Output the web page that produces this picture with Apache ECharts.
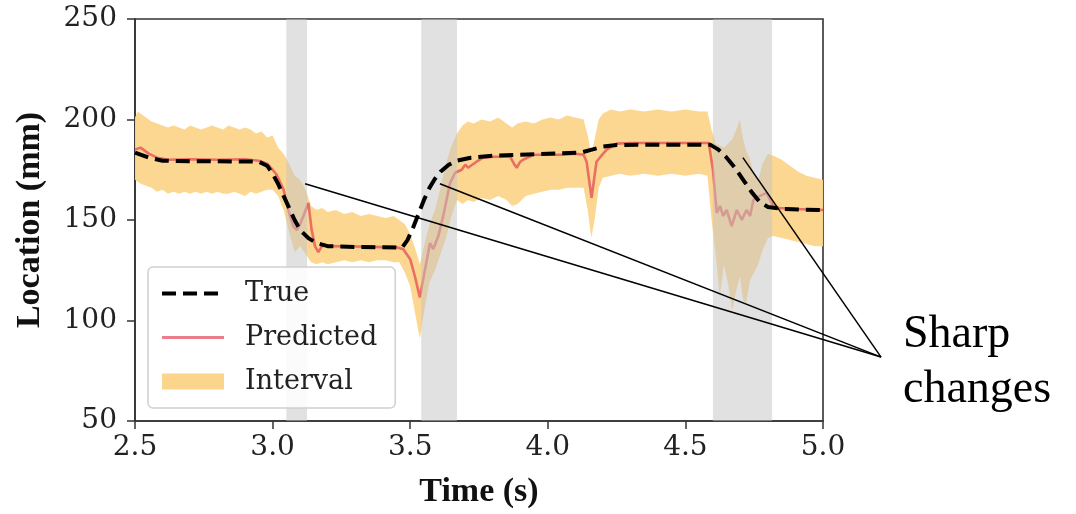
<!DOCTYPE html>
<html>
<head>
<meta charset="utf-8">
<script src="https://cdn.jsdelivr.net/npm/echarts@6/dist/echarts.min.js"></script>
<style>
html,body{margin:0;padding:0;background:#fff;}
#chart{width:1076px;height:514px;}
</style>
</head>
<body>
<div id="chart"></div>
<script>
// ---------------- data ----------------
const xTicks = [2.5, 3.0, 3.5, 4.0, 4.5, 5.0];
const yTicks = [50, 100, 150, 200, 250];

const trueT = [2.50, 2.55, 2.60, 2.70, 2.80, 2.90, 2.95, 2.98, 3.00, 3.02, 3.04, 3.06, 3.08, 3.10, 3.13, 3.16, 3.20, 3.30, 3.40, 3.47, 3.49, 3.51, 3.53, 3.55, 3.57, 3.59, 3.61, 3.64, 3.67, 3.72, 3.80, 3.90, 4.00, 4.12, 4.16, 4.20, 4.25, 4.35, 4.45, 4.59, 4.62, 4.65, 4.68, 4.71, 4.74, 4.77, 4.80, 4.85, 4.92, 5.00];
const trueV = [183.5, 181, 179.5, 179.2, 179.2, 179.1, 179, 177, 173, 168, 162, 156, 150, 145, 141, 138.5, 137, 136.6, 136.4, 136.2, 140, 146, 153, 160, 166, 170.5, 174, 177.5, 179.5, 181, 182, 182.5, 183, 183.5, 185, 186.5, 187.3, 187.4, 187.5, 187.5, 185, 181, 176, 170, 164, 159, 156.5, 155.5, 155.2, 155];

const predT = [2.50, 2.52, 2.55, 2.58, 2.62, 2.70, 2.80, 2.90, 2.95, 2.98, 3.00, 3.015, 3.04, 3.057, 3.075, 3.088, 3.10, 3.112, 3.13, 3.142, 3.154, 3.166, 3.184, 3.20, 3.30, 3.40, 3.45, 3.475, 3.50, 3.517, 3.535, 3.554, 3.572, 3.584, 3.602, 3.62, 3.645, 3.663, 3.687, 3.70, 3.71, 3.741, 3.765, 3.80, 3.863, 3.877, 3.887, 3.90, 3.91, 3.95, 4.00, 4.05, 4.10, 4.13, 4.141, 4.15, 4.159, 4.168, 4.177, 4.195, 4.214, 4.25, 4.30, 4.40, 4.50, 4.585, 4.60, 4.614, 4.626, 4.637, 4.65, 4.668, 4.687, 4.705, 4.722, 4.735, 4.747, 4.771, 4.795, 4.818, 4.84, 4.90, 5.00];
const predV = [185, 186, 183, 181, 180, 180.2, 180, 180.2, 179.5, 178, 175, 172.5, 165, 155, 147, 145, 148, 152, 158.5, 145, 137, 134, 138, 137, 136.8, 136.5, 136.5, 135.5, 130.5, 122, 111.5, 125.5, 138.5, 135.5, 142, 152, 168.5, 173.5, 175, 177.5, 176, 179, 181, 181.5, 181.5, 178, 176, 179, 180, 182.5, 182.5, 182.5, 183, 182.5, 179, 170, 161, 170, 179, 182, 185, 188, 188.3, 188.3, 188.3, 188.3, 175, 153.5, 157, 152, 155, 147, 155, 150, 155, 152, 160, 162, 163.5, 157, 156, 155.5, 155];

const bandT = [2.50, 2.51, 2.52, 2.54, 2.56, 2.58, 2.60, 2.62, 2.64, 2.66, 2.68, 2.70, 2.72, 2.74, 2.76, 2.78, 2.80, 2.82, 2.84, 2.86, 2.88, 2.90, 2.92, 2.94, 2.96, 2.98, 3.00, 3.02, 3.04, 3.06, 3.08, 3.10, 3.12, 3.14, 3.16, 3.18, 3.20, 3.23, 3.26, 3.29, 3.32, 3.35, 3.38, 3.41, 3.44, 3.46, 3.48, 3.50, 3.52, 3.535, 3.55, 3.57, 3.59, 3.61, 3.63, 3.65, 3.67, 3.69, 3.71, 3.73, 3.76, 3.79, 3.82, 3.85, 3.87, 3.89, 3.92, 3.95, 3.98, 4.01, 4.04, 4.07, 4.10, 4.13, 4.145, 4.158, 4.17, 4.185, 4.20, 4.23, 4.26, 4.30, 4.35, 4.40, 4.45, 4.50, 4.55, 4.58, 4.595, 4.61, 4.625, 4.64, 4.655, 4.67, 4.685, 4.698, 4.71, 4.72, 4.735, 4.75, 4.765, 4.78, 4.80, 4.82, 4.85, 4.88, 4.91, 4.94, 4.97, 5.00];
const bandUpper = [201, 204, 203, 201, 199, 198, 197, 196, 197, 196, 195, 197, 196, 195, 196, 197, 196, 195, 197, 196, 195, 196, 195, 193, 194, 191, 192, 186, 183, 178, 172, 170, 165, 157, 155, 156, 154, 155, 153, 154, 152, 153, 152, 151, 152, 150, 148, 143, 135, 128, 137, 148, 155, 166, 178, 187, 193, 197, 199, 198, 200, 199, 201, 198, 196, 198, 199, 198, 200, 201, 200, 202, 201, 200, 192, 183, 190, 200, 203, 205, 204, 205, 204, 205, 204, 205, 204, 204, 195, 188, 187, 186, 188, 190, 195, 200, 190, 185, 180, 172, 170, 178, 183, 182, 180, 177, 174, 172, 171, 170];
const bandLower = [170, 169, 168, 167, 166, 164, 165, 163, 164, 163, 164, 163, 164, 163, 164, 163, 164, 163, 163, 164, 163, 162, 164, 163, 164, 165, 165, 162, 155, 144, 134, 137, 133, 129, 128, 129, 128, 129, 130, 129, 130, 129, 130, 130, 129, 129, 124, 117, 102, 91, 104, 119, 125, 133, 141, 152, 160, 158, 160, 159, 161, 160, 162, 160, 157, 158, 162, 163, 164, 165, 165, 166, 166, 166, 155, 141, 150, 166, 171, 172, 173, 172, 173, 172, 173, 172, 173, 172, 150, 133, 112, 128, 118, 105, 115, 122, 110, 108, 120, 124, 128, 135, 141, 142, 141, 140, 139, 138, 137, 137];

const shadeStart = [3.05, 3.54, 4.60];
const shadeEnd = [3.125, 3.67, 4.815];

// annotation: pointer targets (data coords) and the common origin near the label
const pointerTargets = [[3.118, 168], [3.608, 168], [4.709, 181]];
const pointerOrigin = [5.211, 81.8];
const noteLines = ['Sharp', 'changes'];

// ---------------- chart ----------------
const chart = echarts.init(document.getElementById('chart'), null, {renderer: 'canvas'});
const serif = '"DejaVu Serif", serif';
const times = '"Liberation Serif", "Times New Roman", serif';
const axisColor = '#333';
const intervalColor = '#fcd58c';
const predColor = 'rgba(222, 45, 70, 0.62)';

const bandData = bandT.map((t, i) => [t, bandUpper[i], bandLower[i]]);
const shadeData = shadeStart.map((s, i) => [s, shadeEnd[i]]);

const option = {
  animation: false,
  backgroundColor: '#fff',
  grid: {
    left: 135, right: 253, top: 19, bottom: 92,
    show: true, borderColor: axisColor, borderWidth: 1.6, backgroundColor: 'transparent'
  },
  xAxis: {
    type: 'value',
    min: xTicks[0], max: xTicks[xTicks.length - 1], interval: 0.5,
    name: 'Time (s)', nameLocation: 'middle', nameGap: 54,
    nameTextStyle: {fontFamily: times, fontWeight: 'bold', fontSize: 34, color: '#111'},
    axisLine: {show: true, onZero: false, lineStyle: {color: axisColor, width: 1.6}},
    axisTick: {show: true, length: 8, lineStyle: {color: axisColor, width: 1.5}},
    axisLabel: {fontFamily: serif, fontSize: 28, color: '#222', margin: 13,
      formatter: v => v.toFixed(1)},
    splitLine: {show: false}
  },
  yAxis: {
    type: 'value',
    min: yTicks[0], max: yTicks[yTicks.length - 1], interval: 50,
    name: 'Location (mm)', nameLocation: 'middle', nameGap: 88, nameRotate: 90,
    nameTextStyle: {fontFamily: times, fontWeight: 'bold', fontSize: 34, color: '#111'},
    axisLine: {show: true, lineStyle: {color: axisColor, width: 1.6}},
    axisTick: {show: true, length: 8, lineStyle: {color: axisColor, width: 1.5}},
    axisLabel: {fontFamily: serif, fontSize: 28, color: '#222', margin: 18},
    splitLine: {show: false}
  },
  legend: {
    orient: 'vertical', left: 148, top: 267,
    padding: [13, 18, 13, 12],
    itemWidth: 62, itemHeight: 16, itemGap: 17,
    backgroundColor: 'rgba(255,255,255,0.85)',
    borderColor: '#d0d0d0', borderWidth: 1.5, borderRadius: 5,
    textStyle: {fontFamily: serif, fontSize: 27, color: '#222', padding: [0, 0, 0, 16]},
    data: [
      {name: 'True', itemStyle: {opacity: 0}, lineStyle: {width: 4, type: [14, 7], color: '#000'}},
      {name: 'Predicted', itemStyle: {opacity: 0}, lineStyle: {width: 3, color: predColor}},
      {name: 'Interval', icon: 'rect', itemStyle: {color: intervalColor}}
    ]
  },
  series: [
    {
      name: 'Interval', type: 'custom', z: 1, clip: true,
      itemStyle: {color: intervalColor},
      encode: {x: 0, y: [1, 2]},
      data: bandData,
      renderItem: function (params, api) {
        if (params.dataIndex !== 0) return null;
        const pts = [];
        for (let i = 0; i < bandT.length; i++) pts.push(api.coord([bandT[i], bandUpper[i]]));
        for (let i = bandT.length - 1; i >= 0; i--) pts.push(api.coord([bandT[i], bandLower[i]]));
        return {type: 'polygon', shape: {points: pts}, style: {fill: intervalColor, opacity: 0.95}};
      }
    },
    {
      name: 'Predicted', type: 'line', z: 2, symbol: 'none', smooth: false,
      lineStyle: {color: predColor, width: 2.6},
      itemStyle: {color: predColor},
      data: predT.map((t, i) => [t, predV[i]])
    },
    {
      name: 'shade', type: 'custom', z: 3, clip: true, silent: true,
      encode: {x: [0, 1]},
      data: shadeData,
      renderItem: function (params, api) {
        const p0 = api.coord([api.value(0), yTicks[yTicks.length - 1]]);
        const p1 = api.coord([api.value(1), yTicks[0]]);
        return {type: 'rect', shape: {x: p0[0], y: p0[1], width: p1[0] - p0[0], height: p1[1] - p0[1]},
          style: {fill: 'rgba(195,195,195,0.5)'}};
      }
    },
    {
      name: 'True', type: 'line', z: 4, symbol: 'none',
      lineStyle: {color: '#000', width: 4, type: [14, 7]},
      itemStyle: {color: '#000'},
      data: trueT.map((t, i) => [t, trueV[i]])
    }
  ]
};
chart.setOption(option);

// annotation pointer lines and text, placed through the chart's own scales
const o = chart.convertToPixel({gridIndex: 0}, pointerOrigin);
const graphics = pointerTargets.map(p => {
  const q = chart.convertToPixel({gridIndex: 0}, p);
  return {type: 'line', z: 100, shape: {x1: o[0], y1: o[1], x2: q[0], y2: q[1]},
    style: {stroke: '#000', lineWidth: 1.5}};
});
graphics.push({type: 'text', z: 100, left: 903, top: 312,
  style: {text: noteLines[0], font: '46px "Liberation Serif", serif', fill: '#000'}});
graphics.push({type: 'text', z: 100, left: 903, top: 367,
  style: {text: noteLines[1], font: '46px "Liberation Serif", serif', fill: '#000'}});
chart.setOption({graphic: graphics});
</script>
</body>
</html>
